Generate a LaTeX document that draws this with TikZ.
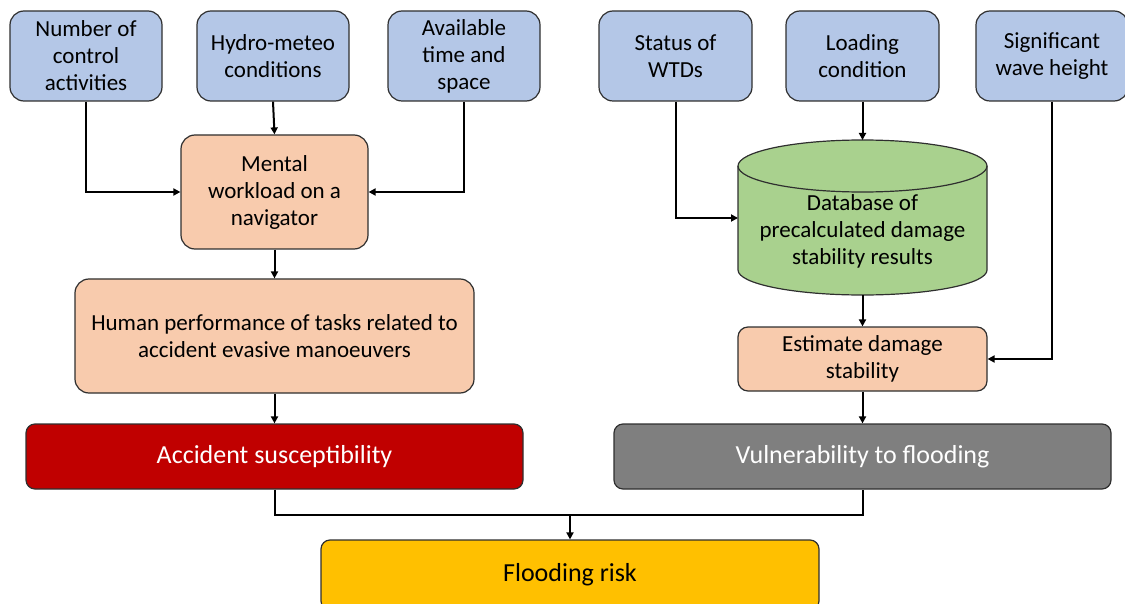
\documentclass[tikz,border=0pt]{standalone}
\usepackage{fontspec}
\setmainfont{Carlito}
\usetikzlibrary{arrows.meta}
\definecolor{cblue}{HTML}{B4C7E7}
\definecolor{corange}{HTML}{F8CBAD}
\definecolor{cgreen}{HTML}{A9D18E}
\definecolor{cred}{HTML}{C00000}
\definecolor{cgray}{HTML}{7F7F7F}
\definecolor{cyellow}{HTML}{FFC000}
\definecolor{cborder}{HTML}{2F2F2F}
\begin{document}
\begin{tikzpicture}[x=1pt,y=-1pt,
  box/.style={draw=cborder,line width=1.2pt,rounded corners=14pt,align=center,inner sep=0pt,
    font=\fontsize{23}{27}\selectfont},
  inbox/.style={box,fill=cblue,minimum width=152pt,minimum height=90pt},
  procbox/.style={box,fill=corange},
  bigbox/.style={box,rounded corners=9pt,minimum width=497pt,minimum height=65pt,
    font=\fontsize{26}{30}\selectfont},
  line/.style={line width=2pt,draw=black},
  arr/.style={line,-{Triangle[length=7pt,width=7pt]}}]
\useasboundingbox (0,0) rectangle (1125,604);
% input boxes
\node[inbox] (num) at (86,56) {Number of\\control\\activities};
\node[inbox] (hyd) at (273,56) {Hydro-meteo\\conditions};
\node[inbox] (avl) at (464,56) {Available\\time and\\space};
\node[inbox,minimum width=153pt] (wtd) at (675.5,56) {Status of\\WTDs};
\node[inbox,minimum width=153pt] (load) at (862.5,56) {Loading\\condition};
\node[inbox,minimum width=152pt] (wave) at (1052,56) {Significant\\wave height};
% processing
\node[procbox,minimum width=187pt,minimum height=114pt] (ment) at (274.5,192) {Mental\\workload on a\\navigator};
\node[procbox,minimum width=399pt,minimum height=114pt] (hum) at (274.5,336) {Human performance of tasks related to\\accident evasive manoeuvers};
\node[procbox,rounded corners=10pt,minimum width=249pt,minimum height=64pt] (est) at (862.5,359) {Estimate damage\\stability};
% cylinder
\fill[cgreen] (987,166) -- (987,270) arc[start angle=0,end angle=-180,x radius=124.5pt,y radius=25pt] -- (738,166) -- cycle;
\fill[cgreen] (862.5,166) ellipse[x radius=124.5pt,y radius=26pt];
\draw[cborder,line width=1.2pt] (987,166) -- (987,270) arc[start angle=0,end angle=-180,x radius=124.5pt,y radius=25pt] -- (738,166);
\draw[cborder,line width=1.2pt] (862.5,166) ellipse[x radius=124.5pt,y radius=26pt];
\node[align=center,font=\fontsize{23}{27}\selectfont] (db) at (862.5,231) {Database of\\precalculated damage\\stability results};
\coordinate (dbtop) at (862.5,140);
\coordinate (dbleft) at (738,218);
\coordinate (dbbot) at (862.5,295);
% outcome boxes
\node[bigbox,fill=cred,text=white] (acc) at (274.5,456.5) {Accident susceptibility};
\node[bigbox,fill=cgray,text=white] (vul) at (862.5,456.5) {Vulnerability to flooding};
\node[bigbox,fill=cyellow,minimum width=498pt,minimum height=70pt] (fr) at (570,575) {Flooding risk};
% connectors
\draw[arr] (num.south) |- (ment.west);
\draw[arr] (hyd.south) -- (ment.north);
\draw[arr] (avl.south) |- (ment.east);
\draw[arr] (ment.south) -- (hum.north);
\draw[arr] (hum.south) -- (acc.north);
\draw[arr] (wtd.south) |- (dbleft);
\draw[arr] (load.south) -- (dbtop);
\draw[arr] (dbbot) -- (est.north);
\draw[arr] (wave.south) |- (est.east);
\draw[arr] (est.south) -- (vul.north);
\coordinate (j) at (570,515);
\draw[line] (acc.south) |- (j) -| (vul.south);
\draw[arr] (j) -- (fr.north);
\end{tikzpicture}
\end{document}
